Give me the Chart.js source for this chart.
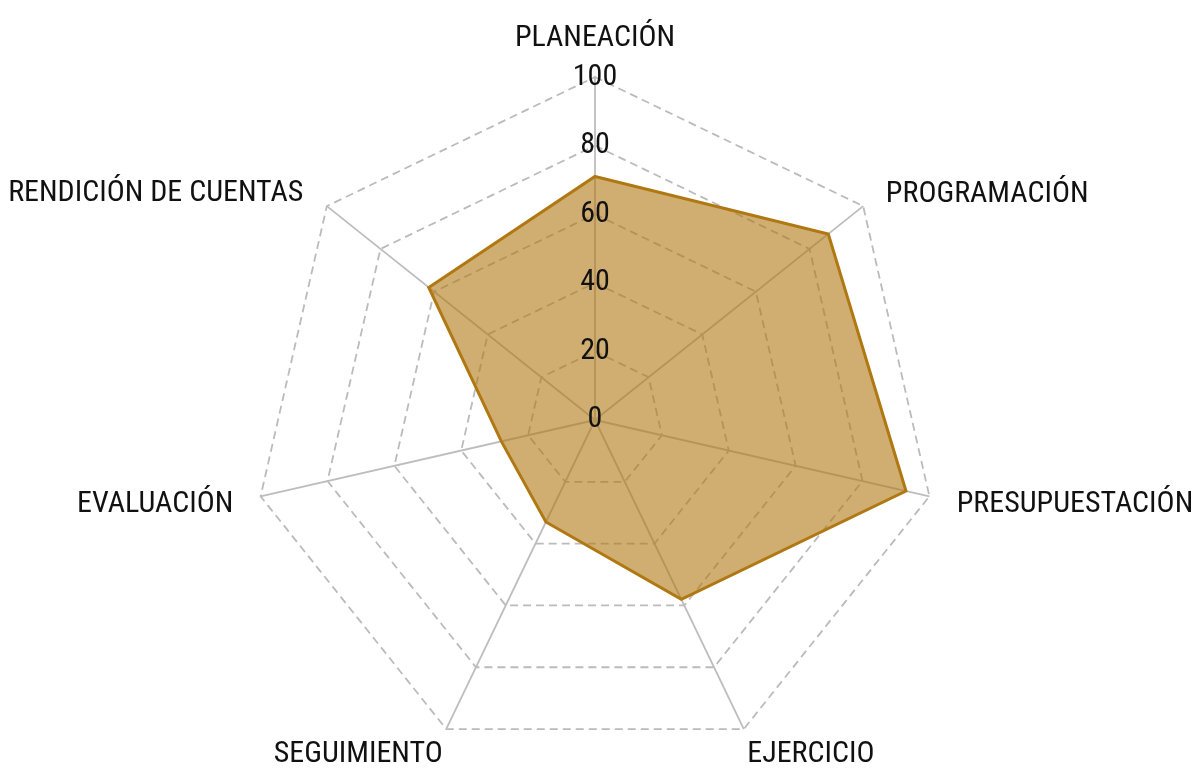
<!DOCTYPE html>
<html>
<head>
<meta charset="utf-8">
<script src="https://cdn.jsdelivr.net/npm/chart.js@4/dist/chart.umd.min.js"></script>
<style>
  html, body { margin: 0; padding: 0; background: #fff; overflow: hidden; }
  /* a little taller than the window: the bottom strip is empty and gets cut off */
  #wrap { width: 1202px; height: 800px; }
</style>
</head>
<body>
<div id="wrap"><canvas id="radar"></canvas></div>
<script>
var categories = ["PLANEACIÓN", "PROGRAMACIÓN", "PRESUPUESTACIÓN", "EJERCICIO",
                  "SEGUIMIENTO", "EVALUACIÓN", "RENDICIÓN DE CUENTAS"];
var scores = [71, 87, 93, 58, 33, 28, 62];
var tickValues = [0, 20, 40, 60, 80, 100];

// gap between the outer ring and each category label, and a small vertical nudge
var labelGaps = [4, 12, 11, -9, -9, 11, 13];
var labelShiftY = [0, 24, -16, 0, 0, -16, 24];

var fontFamily = "'Roboto Condensed', 'Open Sans', sans-serif";

window.onload = function () {
    var ctx = document.getElementById("radar").getContext('2d');
    new Chart(ctx, {
        type: 'radar',
        data: {
            labels: categories,
            datasets: [{
                data: scores,
                backgroundColor: 'rgba(176, 120, 18, 0.6)',
                borderColor: '#b07812',
                borderWidth: 3,
                pointRadius: 0,
                fill: true
            }]
        },
        options: {
            responsive: true,
            maintainAspectRatio: false,
            animation: false,
            layout: { padding: 0 },
            plugins: {
                legend: { display: false },
                tooltip: { enabled: false }
            },
            scales: {
                r: {
                    // just below zero so the "0" label at the centre is drawn
                    min: -0.001,
                    max: 100,
                    afterBuildTicks: function (scale) {
                        scale.ticks = tickValues.map(function (v) { return { value: v }; });
                    },
                    afterFit: function (scale) {
                        (scale._pointLabelItems || []).forEach(function (item, i) {
                            var dy = labelShiftY[i] || 0;
                            item.y += dy;
                            item.top += dy;
                            item.bottom += dy;
                        });
                    },
                    angleLines: { color: '#bdbdbd', lineWidth: 1.8 },
                    grid: { color: '#bbbbbb', lineWidth: 1.8 },
                    border: { dash: [8, 5] },
                    ticks: {
                        showLabelBackdrop: false,
                        color: '#111',
                        font: { family: fontFamily, size: 30 },
                        z: 1
                    },
                    pointLabels: {
                        color: '#111',
                        padding: function (c) { return labelGaps[c.index]; },
                        font: { family: fontFamily, size: 30 }
                    }
                }
            }
        }
    });
};
</script>
</body>
</html>
